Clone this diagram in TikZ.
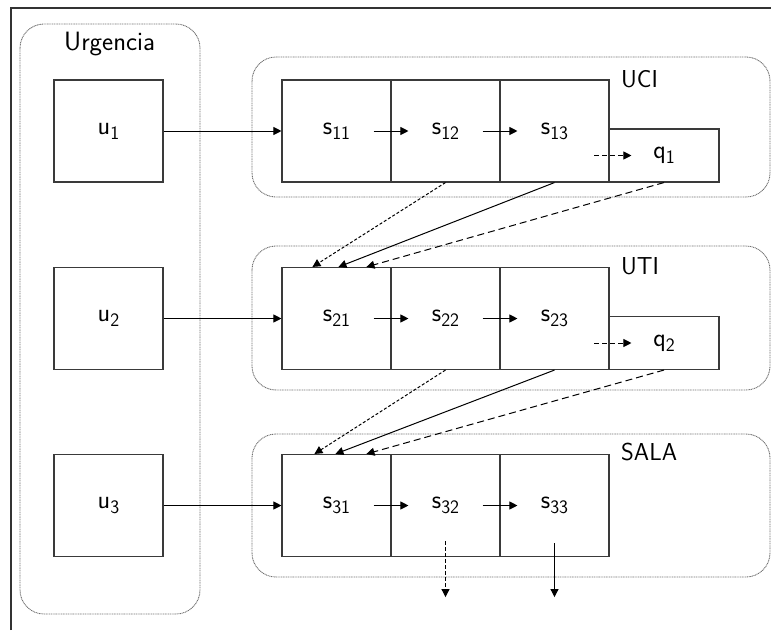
\documentclass[tikz,border=0pt]{standalone}
\usetikzlibrary{arrows.meta}
\definecolor{boxgray}{HTML}{3A3A3A}
\definecolor{grpgray}{HTML}{707070}
\definecolor{framegray}{HTML}{333333}
\newcommand\boxtextfont{\sffamily\fontsize{26}{30}\selectfont}
\newcommand\grouptextfont{\sffamily\fontsize{24.5}{28}\selectfont}
\newcommand\urgtextfont{\sffamily\fontsize{26.5}{30}\selectfont}
\newcommand\sub[1]{\raisebox{-5pt}{\fontsize{19}{21}\selectfont #1}}
\begin{document}
\begin{tikzpicture}[x=1pt,y=-1pt,
  box/.style={draw=boxgray, line width=1.1pt, minimum width=109pt,
              minimum height=102pt, inner sep=0pt, font=\boxtextfont},
  qbox/.style={box, minimum width=110pt, minimum height=53pt},
  group/.style={draw=grpgray, line width=0.9pt, dash pattern=on 1pt off 0.7pt,
                rounded corners=24pt},
  grouplabel/.style={anchor=base west, inner sep=0pt, font=\grouptextfont},
  arr/.style={-{Triangle[length=8pt,width=8pt]}, line width=1pt},
  dotarr/.style={arr, dash pattern=on 3pt off 2pt},
  dasharr/.style={arr, dash pattern=on 7pt off 4pt},
  qarr/.style={arr, dash pattern=on 5pt off 3pt},
  exitdash/.style={arr, dash pattern=on 4pt off 2pt}]
\useasboundingbox (0,0) rectangle (771,630);

% outer frame
\draw[framegray, line width=1.6pt] (11,630) -- (11,8) -- (771,8);

% group outlines
\draw[group] (20,24) rectangle (200,614);
\draw[group] (252,57) rectangle (770,197);
\draw[group] (252,246) rectangle (770,390);
\draw[group] (252,434) rectangle (770,577);

% group labels
\node[anchor=base west, inner sep=0pt, font=\urgtextfont] (lurg) at (64,50) {Urgencia};
\node[grouplabel] (luci) at (621,87) {UCI};
\node[grouplabel] (luti) at (621,274) {UTI};
\node[grouplabel] (lsala) at (621,460) {SALA};

% emergency boxes
\node[box] (u1) at (108.5,131) {u\sub{1}};
\node[box] (u2) at (108.5,318.5) {u\sub{2}};
\node[box] (u3) at (108.5,505.5) {u\sub{3}};

% service rows
\node[box] (s11) at (336.5,131) {s\sub{11}};
\node[box] (s12) at (445.5,131) {s\sub{12}};
\node[box] (s13) at (554.5,131) {s\sub{13}};
\node[qbox] (q1) at (664,155.5) {q\sub{1}};

\node[box] (s21) at (336.5,318.5) {s\sub{21}};
\node[box] (s22) at (445.5,318.5) {s\sub{22}};
\node[box] (s23) at (554.5,318.5) {s\sub{23}};
\node[qbox] (q2) at (664,343) {q\sub{2}};

\node[box] (s31) at (336.5,505.5) {s\sub{31}};
\node[box] (s32) at (445.5,505.5) {s\sub{32}};
\node[box] (s33) at (554.5,505.5) {s\sub{33}};

% admissions
\draw[arr] (u1.east) -- (s11.west);
\draw[arr] (u2.east) -- (s21.west);
\draw[arr] (u3.east) -- (s31.west);

% transitions inside each unit
\foreach \r in {1,2,3}{
  \draw[arr] ([xshift=-18pt]s\r1.east) -- ([xshift=18pt]s\r2.west);
  \draw[arr] ([xshift=-18pt]s\r2.east) -- ([xshift=18pt]s\r3.west);
}
\draw[qarr] ([xshift=-14pt]q1.west) -- ([xshift=23pt]q1.west);
\draw[qarr] ([xshift=-14pt]q2.west) -- ([xshift=23pt]q2.west);

% transfers between units
\draw[dotarr] (s12.south) -- ([xshift=31pt]s21.north west);
\draw[arr] (s13.south) -- ([xshift=57pt]s21.north west);
\draw[dasharr] (q1.south) -- ([xshift=85pt]s21.north west);

\draw[dotarr] (s22.south) -- ([xshift=33pt]s31.north west);
\draw[arr] (s23.south) -- ([xshift=54pt]s31.north west);
\draw[dasharr] (q2.south) -- ([xshift=85pt]s31.north west);

% discharges
\coordinate (from32) at ([yshift=16pt]s32.south);
\coordinate (out32) at ([yshift=-40pt]s32.south);
\coordinate (from33) at ([yshift=14pt]s33.south);
\coordinate (out33) at ([yshift=-40pt]s33.south);
\draw[exitdash] (from32) -- (out32);
\draw[arr] (from33) -- (out33);
\end{tikzpicture}
\end{document}
